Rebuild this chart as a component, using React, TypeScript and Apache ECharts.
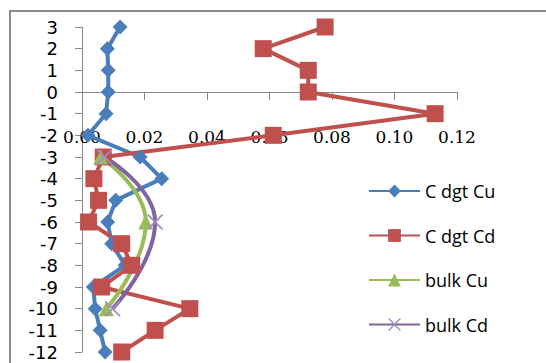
import React, { useEffect, useRef } from "react";
import * as echarts from "echarts";

const depths = [3, 2, 1, 0, -1, -2, -3, -4, -5, -6, -7, -8, -9, -10, -11, -12];
const cDgtCu = [0.0122, 0.0081, 0.0084, 0.0084, 0.0077, 0.0019, 0.0186, 0.0255, 0.0108, 0.0082, 0.0095, 0.0138, 0.0036, 0.0042, 0.0058, 0.0074];
const cDgtCd = [0.0778, 0.058, 0.0724, 0.0724, 0.113, 0.0612, 0.0068, 0.0038, 0.0053, 0.0021, 0.0127, 0.0159, 0.0063, 0.0345, 0.0234, 0.0127];
const bulkDepths = [-3, -6, -10];
const bulkCu = [0.006, 0.0204, 0.0078];
const bulkCd = [0.0072, 0.0234, 0.0098];

const seriesNames = ["C dgt Cu", "C dgt Cd", "bulk Cu", "bulk Cd"];
const xTicks = { min: 0, max: 0.12, interval: 0.02 };
const yTicks = { min: -12, max: 3, interval: 1 };

const pairs = (xs: number[], ys: number[]) => xs.map((x, i) => [x, ys[i]]);

const X_PATH = "path://M0,0.8L0.8,0L10,9.2L9.2,10Z M9.2,0L10,0.8L0.8,10L0,9.2Z";

const GRID_TOP = 27;
const GRID_H = 325;
// x axis crosses the y axis at depth 0
const X_AXIS_CROSS = 0;
const xAxisOffset = -(GRID_H * (X_AXIS_CROSS - yTicks.min)) / (yTicks.max - yTicks.min);

export default function App() {
  const ref = useRef<HTMLDivElement>(null);
  useEffect(() => {
    if (!ref.current) return;
    const chart = echarts.init(ref.current, undefined, { renderer: "svg" });
    chart.setOption({
      animation: false,
      backgroundColor: "#ffffff",
      graphic: [
        {
          type: "rect",
          shape: { x: 10, y: 11, width: 600, height: 400 },
          style: { fill: "none", stroke: "#8c8c8c", lineWidth: 2 },
          silent: true,
        },
      ],
      grid: { left: 82, top: GRID_TOP, width: 375, height: GRID_H, outerBoundsMode: "none", containLabel: false },
      xAxis: {
        type: "value",
        position: "bottom",
        offset: xAxisOffset,
        min: xTicks.min,
        max: xTicks.max,
        interval: xTicks.interval,
        axisLine: { show: true, onZero: false, lineStyle: { color: "#8a8a8a", width: 1 } },
        axisTick: { show: true, inside: false, length: 8, lineStyle: { color: "#8a8a8a" } },
        splitLine: { show: false },
        axisLabel: {
          margin: 36,
          color: "#000",
          fontFamily: "DejaVu Serif",
          fontSize: 17,
          formatter: (v: number) => v.toFixed(2),
        },
      },
      yAxis: {
        type: "value",
        min: yTicks.min,
        max: yTicks.max,
        interval: yTicks.interval,
        axisLine: { show: true, onZero: false, lineStyle: { color: "#8a8a8a", width: 1 } },
        axisTick: { show: true, inside: false, length: 7, lineStyle: { color: "#8a8a8a" } },
        splitLine: { show: false },
        axisLabel: {
          margin: 24,
          color: "#000",
          fontFamily: "DejaVu Sans",
          fontSize: 18,
        },
      },
      legend: {
        orient: "vertical",
        left: 363,
        top: 177,
        itemWidth: 51,
        itemHeight: 16,
        itemGap: 26.5,
        data: seriesNames,
        textStyle: { fontFamily: "Open Sans", fontSize: 18, color: "#000", padding: [0, 0, 0, 0] },
      },
      series: [
        {
          name: seriesNames[0],
          type: "line",
          data: pairs(cDgtCu, depths),
          symbol: "diamond",
          symbolSize: 15,
          lineStyle: { color: "#4A7EBB", width: 4 },
          itemStyle: { color: "#4A7EBB" },
        },
        {
          name: seriesNames[1],
          type: "line",
          data: pairs(cDgtCd, depths),
          symbol: "rect",
          symbolSize: 17,
          lineStyle: { color: "#C0504D", width: 4 },
          itemStyle: { color: "#C0504D" },
        },
        {
          name: seriesNames[2],
          type: "line",
          smooth: true,
          data: pairs(bulkCu, bulkDepths),
          symbol: "triangle",
          symbolSize: 15,
          lineStyle: { color: "#9BBB59", width: 4 },
          itemStyle: { color: "#9BBB59" },
        },
        {
          name: seriesNames[3],
          type: "line",
          smooth: true,
          data: pairs(bulkCd, bulkDepths),
          symbol: X_PATH,
          symbolSize: 16,
          lineStyle: { color: "#8064A2", width: 4 },
          itemStyle: { color: "#A08CC8" },
        },
      ],
    });
    return () => chart.dispose();
  }, []);
  return (
    <div
      ref={ref}
      style={{ position: "fixed", left: 0, top: 0, width: 546, height: 363 }}
    />
  );
}
